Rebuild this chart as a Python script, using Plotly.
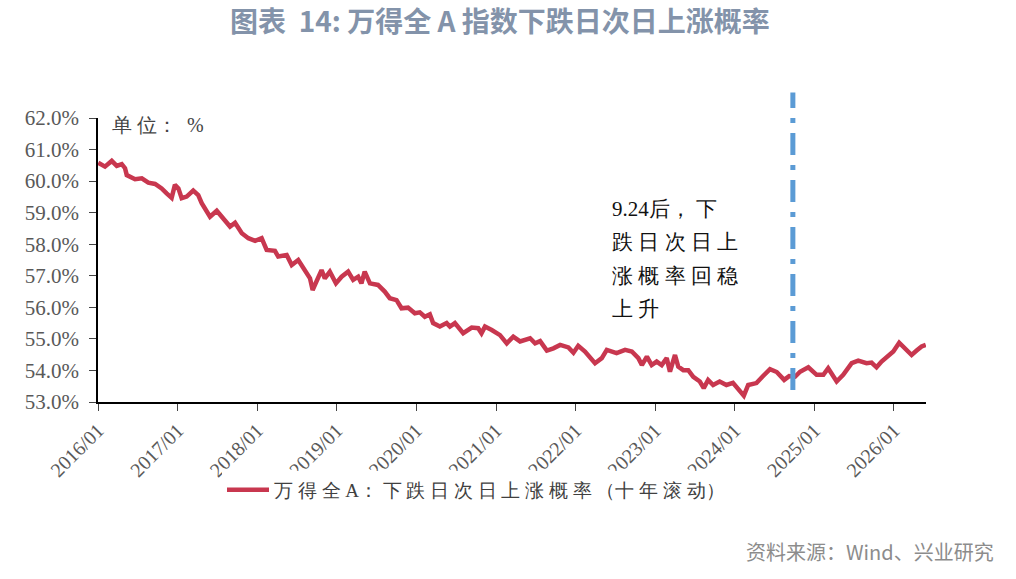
import plotly.graph_objects as go

dates = [
    "2016-01-02", "2016-02-02", "2016-03-04", "2016-03-27", "2016-04-19", "2016-05-04",
    "2016-05-12", "2016-06-19", "2016-07-20", "2016-08-19", "2016-09-19", "2016-10-19",
    "2016-11-11", "2016-12-04", "2016-12-19", "2017-01-04", "2017-01-19", "2017-02-11",
    "2017-03-13", "2017-04-05", "2017-04-21", "2017-05-14", "2017-05-29", "2017-06-29",
    "2017-07-29", "2017-08-29", "2017-09-21", "2017-10-22", "2017-11-21", "2017-12-22",
    "2018-01-21", "2018-02-13", "2018-03-23", "2018-04-07", "2018-05-16", "2018-06-08",
    "2018-07-08", "2018-07-31", "2018-08-31", "2018-09-12", "2018-09-30", "2018-10-23",
    "2018-11-07", "2018-11-30", "2018-12-28", "2019-01-23", "2019-02-22", "2019-03-17",
    "2019-04-09", "2019-04-24", "2019-05-09", "2019-06-02", "2019-07-09", "2019-08-09",
    "2019-09-01", "2019-10-02", "2019-10-25", "2019-11-24", "2019-12-25", "2020-01-17",
    "2020-02-09", "2020-03-03", "2020-03-18", "2020-04-18", "2020-05-19", "2020-06-03",
    "2020-06-26", "2020-08-03", "2020-09-11", "2020-10-11", "2020-10-26", "2020-11-11",
    "2020-12-12", "2021-01-19", "2021-02-19", "2021-03-21", "2021-04-21", "2021-06-06",
    "2021-06-29", "2021-07-22", "2021-08-22", "2021-09-21", "2021-10-22", "2021-11-29",
    "2021-12-22", "2022-01-13", "2022-02-13", "2022-03-08", "2022-03-31", "2022-05-01",
    "2022-05-24", "2022-07-08", "2022-08-16", "2022-09-16", "2022-10-16", "2022-11-01",
    "2022-11-24", "2022-12-16", "2023-01-08", "2023-01-31", "2023-02-23", "2023-03-10",
    "2023-04-02", "2023-04-17", "2023-05-10", "2023-06-02", "2023-06-25", "2023-07-25",
    "2023-08-12", "2023-09-01", "2023-09-24", "2023-10-24", "2023-11-24", "2023-12-24",
    "2024-01-16", "2024-02-12", "2024-03-03", "2024-04-10", "2024-05-07", "2024-06-11",
    "2024-07-12", "2024-08-15", "2024-09-07", "2024-10-04", "2024-10-27", "2024-12-04",
    "2025-01-11", "2025-02-11", "2025-03-05", "2025-04-13", "2025-05-13", "2025-06-21",
    "2025-07-21", "2025-08-28", "2025-09-20", "2025-10-13", "2025-11-05", "2025-12-13",
    "2025-12-29", "2026-01-25", "2026-02-13", "2026-02-28", "2026-03-23", "2026-04-15",
    "2026-05-08", "2026-05-27",
]
values = [
    60.58, 60.46, 60.64, 60.48, 60.54, 60.41,
    60.19, 60.06, 60.09, 59.95, 59.91, 59.77,
    59.61, 59.47, 59.88, 59.77, 59.46, 59.51,
    59.70, 59.56, 59.30, 59.03, 58.87, 59.06,
    58.82, 58.56, 58.68, 58.35, 58.19, 58.11,
    58.19, 57.82, 57.79, 57.61, 57.66, 57.34,
    57.50, 57.24, 56.92, 56.55, 56.81, 57.18,
    56.92, 57.13, 56.76, 56.97, 57.13, 56.87,
    56.97, 56.76, 57.13, 56.76, 56.71, 56.50,
    56.29, 56.23, 55.97, 55.99, 55.81, 55.84,
    55.70, 55.78, 55.50, 55.39, 55.50, 55.39,
    55.50, 55.18, 55.36, 55.34, 55.18, 55.39,
    55.28, 55.12, 54.86, 55.07, 54.92, 55.02,
    54.86, 54.93, 54.63, 54.70, 54.81, 54.73,
    54.56, 54.78, 54.60, 54.44, 54.23, 54.39,
    54.65, 54.55, 54.65, 54.60, 54.39, 54.17,
    54.44, 54.17, 54.28, 54.17, 54.39, 53.96,
    54.49, 54.12, 54.01, 54.01, 53.80, 53.65,
    53.44, 53.70, 53.54, 53.65, 53.54, 53.61,
    53.44, 53.20, 53.54, 53.60, 53.80, 54.04,
    53.95, 53.70, 53.82, 53.80, 53.96, 54.10,
    53.86, 53.86, 54.07, 53.65, 53.86, 54.23,
    54.31, 54.23, 54.25, 54.10, 54.28, 54.49,
    54.60, 54.88, 54.76, 54.63, 54.49, 54.63,
    54.76, 54.81,
]

tick_dates = [f"{y}-01-01" for y in range(2016, 2027)]
tick_labels = [f"{y}/01" for y in range(2016, 2027)]
y_ticks = list(range(53, 63))
y_tick_labels = [f"{v:.1f}%" for v in y_ticks]
event_date = "2024-09-24"

series_name = "万 得 全 A： 下 跌 日 次 日 上 涨 概 率 （十 年 滚 动）"
title_text = "图表  14: 万得全 A 指数下跌日次日上涨概率"
note_lines = ["9.24后， 下", "跌 日 次 日 上", "涨 概 率 回 稳", "上 升"]

serif = "Liberation Serif"
cjk = "Noto Sans CJK SC"

fig = go.Figure()
fig.add_trace(go.Scatter(
    x=dates, y=values, mode="lines", name=series_name,
    line=dict(color="#C8374F", width=4.5),
))

fig.add_shape(type="line", xref="x", yref="paper",
              x0=event_date, x1=event_date, y0=0.042, y1=1.09,
              line=dict(color="#5B9BD5", width=5, dash="22px,10px,5px,10px"))

for i, line_txt in enumerate(note_lines):
    fig.add_annotation(text=line_txt, xref="paper", yref="paper",
                       x=(610 - 98) / 828, y=(402 - (209 + 33.3 * i)) / 284,
                       xanchor="left", yanchor="middle",
                       showarrow=False, align="left",
                       font=dict(family=serif, size=21, color="#111111"))
fig.add_annotation(text="单 位：  %", xref="paper", yref="paper",
                   x=(110 - 98) / 828, y=(402 - 125) / 284, xanchor="left", yanchor="middle",
                   showarrow=False, font=dict(family=serif, size=20, color="#444444"))
fig.add_annotation(text="资料来源：Wind、兴业研究", xref="paper", yref="paper",
                   x=(996 - 98) / 828, y=(402 - 551) / 284, xanchor="right", yanchor="middle",
                   showarrow=False, font=dict(family=cjk, size=20, color="#8c8c8c"))

fig.update_layout(
    width=1016, height=579,
    margin=dict(l=98, r=90, t=118, b=177),
    paper_bgcolor="white", plot_bgcolor="white",
    title=dict(text=title_text, x=0.492, xanchor="center", y=1 - 22 / 579, yanchor="middle",
               font=dict(family=cjk, size=28, color="#8393AA", weight=600)),
    showlegend=True,
    legend=dict(orientation="h", x=(222 - 98) / 828, xanchor="left",
                y=(402 - 490) / 284, yanchor="middle",
                font=dict(family=serif, size=19, color="#404040"),
                itemwidth=42),
)
fig.update_xaxes(
    range=["2016-01-01", "2026-05-28"],
    tickvals=tick_dates, ticktext=tick_labels, tickangle=-45,
    showgrid=False, zeroline=False,
    showline=True, linecolor="black", linewidth=1.5,
    ticks="outside", ticklen=7, tickcolor="#444444",
    tickfont=dict(family=serif, size=20, color="#595959"),
)
fig.update_yaxes(
    range=[53, 62], tickvals=y_ticks, ticktext=y_tick_labels,
    showgrid=False, zeroline=False,
    showline=True, linecolor="black", linewidth=1.5,
    ticks="outside", ticklen=7, tickcolor="#444444", ticklabelstandoff=6,
    tickfont=dict(family=serif, size=21, color="#595959"),
)

fig.write_html("out.html")
